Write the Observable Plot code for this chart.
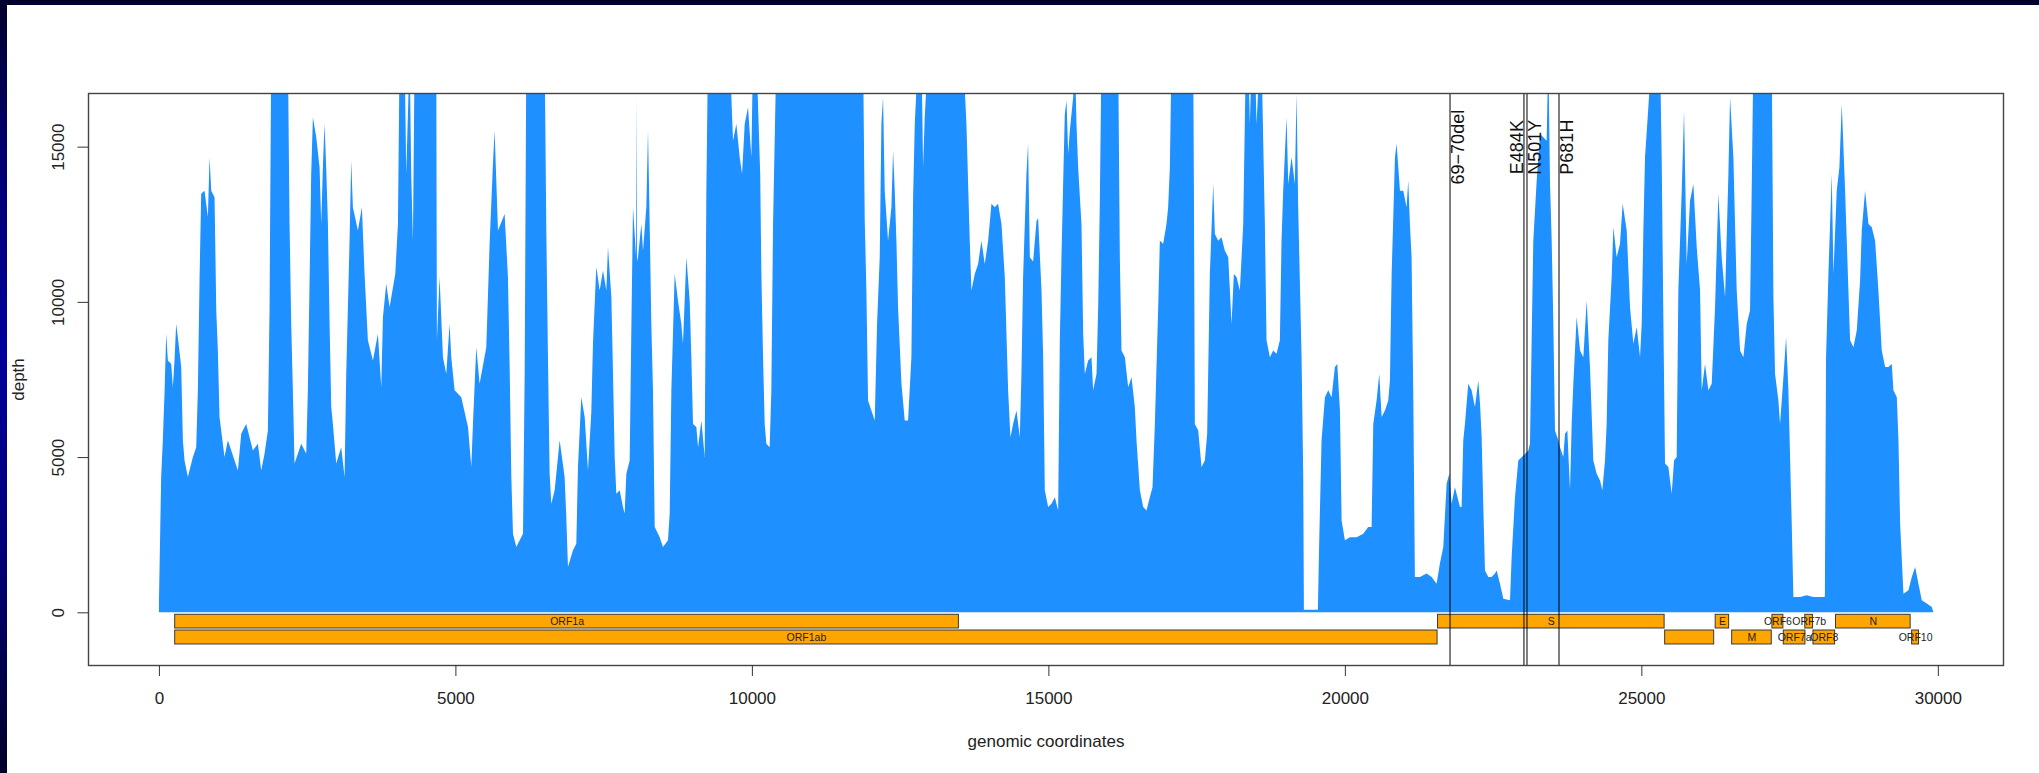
<!DOCTYPE html>
<html>
<head>
<meta charset="utf-8">
<script src="https://cdn.jsdelivr.net/npm/d3@7"></script>
<script src="https://cdn.jsdelivr.net/npm/@observablehq/plot@0.6"></script>
<style>
  html, body { margin: 0; padding: 0; background: #fff; width: 2039px; height: 773px; overflow: hidden; }
  #chart { position: absolute; left: 0; top: 0; }
  #topband { position: absolute; left: 0; top: 0; width: 2039px; height: 5px; background: #00002c; z-index: 2; }
  #leftband { position: absolute; left: 0; top: 0; width: 7px; height: 773px; z-index: 2;
    background: linear-gradient(to bottom, #00002c 0%, #000070 20%, #00009c 45%, #00007a 70%, #00002a 100%); }
</style>
</head>
<body>
<div id="topband"></div>
<div id="leftband"></div>
<div id="chart"></div>
<script>
// genomic position (bp) and read depth
const positions = [0,38,66,94,123,151,207,235,263,291,319,376,404,432,488,573,629,657,685,713,769,826,854,882,938,967,994,1022,1106,1163,1275,1332,1388,1472,1585,1669,1725,1781,1838,1866,1894,2175,2203,2231,2259,2287,2400,2484,2512,2540,2568,2597,2653,2709,2737,2765,2793,2821,2850,2878,2906,2934,2990,3074,3131,3159,3215,3243,3271,3356,3423,3468,3524,3609,3693,3749,3778,3834,3890,3986,4031,4059,4143,4171,4228,4256,4284,4312,4677,4688,4733,4790,4846,4902,4930,4987,5099,5212,5268,5296,5352,5408,5521,5577,5633,5661,5718,5830,5886,5914,5943,5971,6027,6140,6168,6196,6505,6533,6561,6589,6617,6674,6758,6842,6870,6898,6983,7039,7067,7123,7180,7236,7292,7320,7376,7433,7489,7545,7573,7630,7658,7686,7714,7770,7826,7854,7883,7939,7967,7995,8045,8051,8062,8079,8136,8164,8220,8248,8276,8304,8332,8361,8445,8501,8585,8614,8642,8698,8754,8810,8838,8895,8951,8979,9007,9063,9092,9148,9204,9232,9260,9626,9682,9738,9794,9834,9879,9935,9991,10019,10076,10140,10160,10188,10216,10244,10300,10328,10357,10413,11875,11903,11931,11959,12015,12072,12111,12156,12184,12212,12240,12296,12353,12381,12409,12437,12465,12522,12578,12634,12690,12719,12747,12803,12860,12887,12915,12971,13562,13618,13674,13702,13759,13815,13871,13927,13984,14040,14096,14152,14209,14265,14321,14360,14405,14462,14518,14546,14574,14630,14658,14687,14743,14799,14827,14884,14912,14940,14996,15052,15109,15165,15193,15221,15249,15277,15306,15334,15362,15418,15446,15474,15502,15558,15587,15615,15671,15727,15755,15812,15840,15868,15896,16177,16205,16233,16290,16346,16402,16458,16486,16543,16599,16655,16711,16756,16796,16852,16880,16936,16992,17020,17049,17077,17442,17454,17470,17527,17583,17639,17678,17723,17780,17808,17864,17920,17976,18033,18089,18128,18173,18229,18258,18286,18331,18370,18398,18430,18480,18511,18567,18595,18623,18651,18679,18736,18792,18848,18904,18932,18960,19017,19045,19101,19157,19185,19213,19270,19298,19309,19545,19568,19607,19664,19720,19776,19832,19872,19917,19945,20001,20085,20198,20310,20394,20451,20479,20535,20580,20620,20676,20732,20760,20789,20845,20873,20929,20985,21041,21069,21097,21125,21153,21181,21266,21378,21463,21547,21603,21660,21716,21761,21800,21856,21941,21969,21997,22025,22081,22137,22194,22250,22279,22307,22335,22363,22419,22475,22532,22560,22616,22672,22785,22813,22869,22925,23010,23094,23122,23150,23178,23235,23291,23347,23403,23431,23460,23488,23516,23544,23600,23628,23684,23713,23752,23797,23825,23853,23909,23966,24022,24078,24134,24190,24247,24303,24342,24387,24415,24443,24500,24528,24584,24640,24685,24753,24809,24865,24922,24978,25006,25034,25062,25118,25175,25315,25343,25371,25399,25456,25512,25551,25596,25624,25681,25720,25765,25821,25877,25934,25990,26018,26074,26130,26187,26243,26299,26355,26412,26468,26496,26552,26608,26665,26721,26777,26833,26861,26890,27199,27227,27255,27311,27339,27396,27441,27480,27508,27536,27564,27677,27789,27900,28070,28095,28115,28155,28211,28239,28295,28340,28380,28436,28492,28520,28577,28633,28689,28717,28773,28830,28886,28942,28998,29054,29111,29167,29223,29251,29308,29336,29364,29420,29504,29561,29617,29673,29729,29814,29898,29926];
const depths = [280,4360,5540,7040,8970,8110,8000,7250,8110,9290,8860,7900,5540,4890,4360,5000,5320,7150,10690,13480,13580,12730,14660,13580,13370,9720,8430,6290,5000,5540,4890,4570,5750,6070,5210,5430,4570,5110,5860,9830,18000,18000,12510,9290,7150,4790,5430,5110,7150,10580,14120,15950,15300,14340,12510,14340,15730,14340,12510,9290,6610,6070,4790,5320,4360,7680,11970,14550,13050,12300,13050,10900,8760,8110,8970,7250,9510,10580,9830,10900,12510,18000,18000,14120,18000,14010,11970,18000,18000,8760,10800,8220,7680,9290,8220,7150,6930,5970,4680,6070,8540,7360,8540,11870,14440,15520,12300,12830,10800,8000,4360,2530,2100,2530,7680,18000,18000,12300,8220,4460,3500,3930,5540,4360,3070,1460,2000,2210,4680,6930,6290,4570,6450,8650,11120,10370,11010,10370,11760,10150,7680,5000,3820,3930,3390,3180,4460,4890,9080,13050,11500,16600,11300,11440,12510,11650,13050,15520,12510,9290,7150,2750,2420,2100,2320,3180,7150,10900,10040,9290,8650,11440,10040,8220,6070,5970,5320,6180,5000,13580,18000,18000,15190,15730,14660,14120,15730,16270,14660,18000,18000,14120,10900,8220,6070,5430,5320,7150,12510,18000,18000,12620,10370,6820,6500,6180,9290,11440,15730,16590,13580,11970,13050,14870,13580,11970,9830,7360,6180,6180,8220,13370,15730,18000,18000,14340,15950,18000,18000,15730,11970,10370,10900,11220,11970,11220,11970,13160,13050,13160,12510,10800,7150,5640,6070,6500,5640,7680,10800,14120,15090,11440,11300,12600,12700,10370,8220,3930,3390,3500,3710,3280,8760,11440,13800,16050,16480,14760,15520,16590,18000,15730,14340,12510,8970,7680,8110,8220,7150,7680,9830,13260,18000,18000,11440,8430,8220,7250,7570,6610,5540,3930,3390,3280,3710,4030,6070,9830,11970,11870,12510,13050,14340,18000,18000,13800,6070,5860,4680,4890,5750,10900,13800,12190,11970,12080,11650,11440,9290,10900,10800,10370,11440,12510,18000,18000,15730,18000,18000,15730,18000,18000,15190,12510,8760,8220,8430,8330,8760,11970,13580,15950,13800,14660,13800,16700,13050,8220,4360,80,80,2320,5540,6930,7150,6930,7900,8000,6500,2960,2320,2420,2420,2530,2750,2750,6070,6820,7680,6290,6500,6820,7470,10900,14660,15090,13580,13580,13050,13910,12510,11440,7150,1140,1140,1250,1140,920,1570,2100,4140,4460,3500,4030,3390,3390,5540,6070,7360,7150,6610,7470,6720,5640,3390,1350,1140,1140,1250,1350,920,440,390,1780,3710,4890,5050,5210,5430,8760,11970,13910,15410,15300,15190,18000,13800,11970,9290,5860,5540,5320,5000,5750,5860,3930,6070,7360,9510,8430,8220,10040,7900,4890,4460,4250,3930,4890,6070,8760,10800,12400,11440,11870,13160,12300,9830,8650,9180,8220,9290,12300,14660,16270,18000,18000,14660,9510,4790,4680,3820,4890,5000,10370,13580,16160,11220,13260,13800,11760,10370,7150,8000,7150,7360,9830,13480,11440,10150,14120,16590,14660,10370,8430,8220,9290,9720,13580,18000,18000,10150,7680,6820,6070,7570,8860,7150,5000,2850,490,490,550,490,490,500,8220,10900,14120,10900,13580,14340,16370,13580,10370,8760,8540,9080,10690,12300,13580,12510,12400,11970,10370,8430,7900,7900,8000,7150,6930,5540,2850,600,710,1140,1460,920,390,280,170,0];

// gene annotation
const geneNames  = ["ORF1a","ORF1ab","S","ORF3a","E","M","ORF6","ORF7a","ORF7b","ORF8","N","ORF10"];
const geneStarts = [266, 266, 21563, 25393, 26245, 26523, 27202, 27394, 27756, 27894, 28274, 29558];
const geneEnds   = [13483, 21555, 25384, 26220, 26472, 27191, 27387, 27759, 27887, 28259, 29533, 29674];
const geneRows   = [1, 2, 1, 2, 1, 2, 1, 2, 1, 2, 1, 2];
const geneShown  = [true, true, true, false, true, true, true, true, true, true, true, true];

// mutations
const mutNames = ["69\u221270del", "E484K", "N501Y", "P681H"];
const mutPos   = [21765, 23012, 23063, 23603];
const mutLabelDepth = 15000;

// axis ticks
const xTicks = [0, 5000, 10000, 15000, 20000, 25000, 30000];
const yTicks = [0, 5000, 10000, 15000];

const coverage = positions.map((p, i) => ({pos: p, depth: depths[i]}));
const genes = geneNames.map((n, i) => ({name: n, start: geneStarts[i], end: geneEnds[i], row: geneRows[i], shown: geneShown[i]}));
const muts = mutNames.map((n, i) => ({name: n, pos: mutPos[i]}));

const rowTop = r => r === 1 ? -64 : -570;
const rowBot = r => r === 1 ? -505 : -1020;

const FONT = "'Liberation Sans', Arial, Helvetica, sans-serif";

const chart = Plot.plot({
  width: 2039,
  height: 773,
  marginLeft: 88,
  marginRight: 36,
  marginTop: 93,
  marginBottom: 108,
  style: {fontFamily: FONT, fontSize: "17px", background: "transparent", color: "#222", overflow: "visible"},
  x: {domain: [-1196, 31099], range: [88, 2003], label: null},
  y: {domain: [-1697, 16728], range: [665, 93], label: null},
  marks: [
    Plot.areaY(coverage, {x: "pos", y: "depth", fill: "#1E90FF", clip: true}),
    Plot.rect(genes, {x1: "start", x2: "end", y1: d => rowBot(d.row), y2: d => rowTop(d.row), fill: "#FFA500", stroke: "#3a3a3a", strokeWidth: 1}),
    Plot.text(genes.filter(d => d.shown), {x: d => (d.start + d.end) / 2, y: d => (rowTop(d.row) + rowBot(d.row)) / 2, text: "name", fontSize: 10.5, fill: "#222", lineAnchor: "middle"}),
    Plot.ruleX(muts, {x: "pos", stroke: "#000", strokeWidth: 1}),
    Plot.text(muts.filter(d => d.name !== "E484K"), {x: "pos", y: () => mutLabelDepth, text: "name", rotate: -90, textAnchor: "middle", lineAnchor: "top", dx: 1, fontSize: 18, fill: "#111"}),
    Plot.text(muts.filter(d => d.name === "E484K"), {x: "pos", y: () => mutLabelDepth, text: "name", rotate: -90, textAnchor: "middle", lineAnchor: "bottom", dx: -1, fontSize: 18, fill: "#111"}),
    Plot.frame({stroke: "#444", strokeWidth: 1.4}),
    Plot.axisX({ticks: xTicks, tickSize: 11, tickPadding: 15.8, tickFormat: "d", fontSize: 17, stroke: "#333", fill: "#222", label: null}),
    Plot.axisY({ticks: yTicks, tickSize: 10.5, tickFormat: () => "", stroke: "#333", label: null}),
    Plot.text(yTicks, {y: d => d, text: d => String(d), frameAnchor: "left", dx: -29.8, rotate: -90, lineAnchor: "middle", textAnchor: "middle", fontSize: 17, fill: "#222"}),
    Plot.text(["depth"], {text: d => d, frameAnchor: "left", dx: -70, rotate: -90, lineAnchor: "middle", textAnchor: "middle", fontSize: 17, fill: "#222"}),
    Plot.text(["genomic coordinates"], {text: d => d, frameAnchor: "bottom", dy: 76.5, lineAnchor: "middle", textAnchor: "middle", fontSize: 17, fill: "#222"})
  ]
});
document.getElementById("chart").appendChild(chart);
</script>
</body>
</html>
